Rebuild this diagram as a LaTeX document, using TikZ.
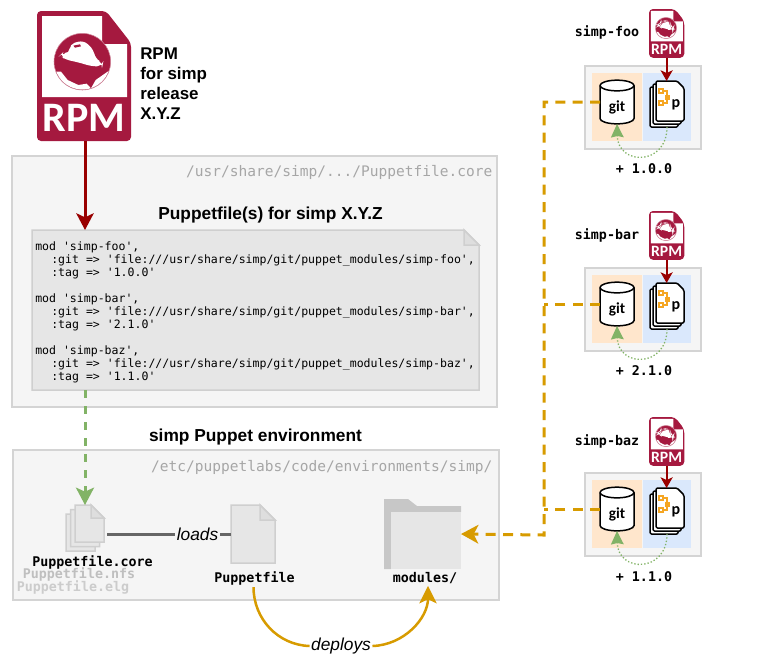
\documentclass[tikz,border=0pt]{standalone}
\usepackage{fontspec}
\setmainfont{Liberation Sans}
\setmonofont{DejaVu Sans Mono}
\newfontfamily\rpmfont{Carlito}
\usetikzlibrary{arrows.meta,positioning,calc}
\definecolor{rpmred}{HTML}{A5193F}
\definecolor{darkred}{HTML}{990000}
\definecolor{gold}{HTML}{D79B00}
\definecolor{leaf}{HTML}{82B366}
\definecolor{panelfill}{HTML}{F5F5F5}
\definecolor{panelline}{HTML}{D4D4D4}
\definecolor{sheetfill}{HTML}{E6E6E6}
\definecolor{sheetline}{HTML}{CFCFCF}
\definecolor{pathgrey}{HTML}{A6A6A6}
\definecolor{forkorange}{HTML}{F5A623}
\definecolor{gitback}{HTML}{FFE6CC}
\definecolor{sheetback}{HTML}{DAE8FC}
\newcommand{\px}{0.75pt}
\newcommand{\cutsheet}[5]{
  \draw[#1] #2 -- ++({#3-#5},0) -- ++(#5,#5) -- ++(0,{#4-#5}) -- ++(-#3,0) -- cycle;
}
\newcommand{\foldsheet}[5]{
  \cutsheet{#1}{#2}{#3}{#4}{#5}
  \draw[#1, fill=black!13] #2 ++({#3-#5},0) -- ++(0,#5) -- ++(#5,0) -- cycle;
}

\begin{document}
\begin{tikzpicture}[
  x=0.75pt, y=-0.75pt,
  font=\small,
  hitbox/.style={inner sep=0pt, outer sep=0pt},
  panel/.style={draw=panelline, fill=panelfill, line width=1.5*\px, inner sep=0pt},
  pathtext/.style={text=pathgrey, font=\ttfamily\fontsize{10.9}{13}\selectfont, anchor=east},
  heading/.style={font=\bfseries\fontsize{13}{15}\selectfont},
  monolabel/.style={font=\ttfamily\bfseries\fontsize{10}{12}\selectfont, inner sep=0pt},
  verblabel/.style={font=\itshape\fontsize{13}{15}\selectfont, inner sep=1pt},
  greysheet/.style={draw=sheetline, fill=sheetfill, line width=1.5*\px},
  blacksheet/.style={draw=black, fill=white, line width=1.5*\px, rounded corners=1pt, line join=round},
  redflow/.style={-{Stealth[length=12.5pt,width=13pt,inset=3pt]}, draw=darkred, line width=3*\px},
  smallred/.style={-{Stealth[length=8pt,width=9pt,inset=2pt]}, draw=darkred, line width=2*\px},
  greenflow/.style={-{Stealth[length=13pt,width=13.5pt,inset=3pt]}, draw=leaf, line width=3*\px, dash pattern=on 6pt off 6pt},
  greenloop/.style={-{Stealth[length=10pt,width=9.5pt,inset=1pt]}, draw=leaf, line width=1.3*\px, dash pattern=on 1pt off 1.5pt},
  goldflow/.style={draw=gold, line width=3*\px, dash pattern=on 7.5pt off 5.5pt},
  goldtip/.style={-{Stealth[length=13pt,width=14pt,inset=3.5pt]}},
  deployflow/.style={draw=gold, line width=2.5*\px},
  rpmicon/.pic={
    \fill[rpmred, rounded corners=3pt] (0,0) -- (69,0) -- (94,32) -- (94,130) -- (0,130) -- cycle;
    \fill[white] (5,5) -- (65,5) -- (65,33) -- (90,33) -- (90,86) -- (5,86) -- cycle;
    \node[hitbox, minimum width=94*\px, minimum height=130*\px] (-body) at (47,65) {};
    \node[text=white, inner sep=0pt, font=\rpmfont\bfseries\fontsize{31.5}{32}\selectfont] at (47,107) {RPM};
    \begin{scope}[shift={(8,14)}, x=0.25pt, y=-0.25pt]
      \fill[rpmred] (112,110) circle (85);
      \begin{scope}
        \clip (112,110) circle (84);
        \fill[white] (20,140) -- (48,140) -- (68,165) -- (100,180) -- (125,176) -- (138,190) -- (152,165) -- (195,135) -- (205,205) -- (15,205) -- cycle;
      \end{scope}
      \draw[rpmred!50, line width=0.4pt] (112,110) circle (85);
      \fill[white, rounded corners=4pt] (74,57) -- (116,46) -- (146,74) -- (150,100) -- (174,114) -- (172,124) -- (140,124) -- (100,112) -- (62,104) -- (44,92) -- (52,84) -- (74,86) -- cycle;
      \fill[rpmred] (85,62) -- (105,58) -- (108,64) -- (90,68) -- cycle;
    \end{scope}
  },
  modulebox/.pic={
    \fill[panelfill, draw=panelline, line width=1.5*\px] (0,0) rectangle (116,83);
    \fill[gitback] (7,7) rectangle (57,75);
    \fill[sheetback] (58,7) rectangle (106,75);
    \filldraw[fill=white, draw=black, line width=1.5*\px] (15,19.5) -- (15,52.5) arc[start angle=180, end angle=360, x radius=12.75pt, y radius=4pt] -- (49,19.5) arc[start angle=0, end angle=180, x radius=12.75pt, y radius=4pt] -- cycle;
    \draw[black, line width=1.5*\px] (15,19.5) arc[start angle=180, end angle=360, x radius=12.75pt, y radius=4pt];
    \node[hitbox, minimum width=34*\px, minimum height=44*\px] (-git) at (32,36) {};
    \node[font=\rpmfont\bfseries\fontsize{11.5}{14}\selectfont, inner sep=0pt, anchor=base] at (32,45) {git};
    \cutsheet{blacksheet}{(65,21)}{28}{40}{7}
    \cutsheet{blacksheet}{(68,18)}{28}{40}{7}
    \cutsheet{blacksheet}{(71,15)}{28}{40}{7}
    \node[hitbox, minimum width=34*\px, minimum height=46*\px] (-sheet) at (82,38) {};
    \draw[forkorange, line width=1.5*\px] (76,25) -| (82,31) (76,37) -| (82,31);
    \draw[forkorange, line width=1.5*\px, fill=white] (74,23) rectangle ++(4,4) (74,35) rectangle ++(4,4);
    \fill[forkorange] (79.5,28.5) rectangle ++(5,5);
    \node[font=\rpmfont\bfseries\fontsize{12}{14}\selectfont, inner sep=0pt, anchor=base] at (91,41) {p};
    \draw[greenloop] (-sheet.south) .. controls (82,100) and (33,100) .. (-git.south);
  }
]
\useasboundingbox (0,0) rectangle (759,662);

\node[panel, minimum width=485*\px, minimum height=251*\px] (corepanel) at (254.5,281.5) {};
\node[panel, minimum width=486*\px, minimum height=150*\px] (envpanel) at (256,525) {};
\node[pathtext] (corepath) at (497,172) {/usr/share/simp/.../Puppetfile.core};
\node[pathtext] (envpath) at (497,467) {/etc/puppetlabs/code/environments/simp/};

\pic (rpmmain) at (37,11) {rpmicon};
\node[align=left, inner sep=0pt, anchor=west, font=\bfseries\fontsize{12.7}{15}\selectfont] (rpmtext) at (140,84) {RPM\\for simp\\release\\X.Y.Z};

\node[heading] (codetitle) at (270.5,215) {Puppetfile(s) for simp X.Y.Z};
\node[hitbox, minimum width=447*\px, minimum height=160*\px] (codefile) at (255,310) {};
\foldsheet{greysheet}{(32,230)}{447}{160}{15}
\node[align=left, inner sep=0pt, anchor=north west, font=\ttfamily\fontsize{8.65}{9.75}\selectfont] (codetext) at (35,241.5) {%
mod 'simp-foo',\\
\hspace*{1.39em}:git => 'file:///usr/share/simp/git/puppet\_modules/simp-foo',\\
\hspace*{1.39em}:tag => '1.0.0'\\[9.75pt]
mod 'simp-bar',\\
\hspace*{1.39em}:git => 'file:///usr/share/simp/git/puppet\_modules/simp-bar',\\
\hspace*{1.39em}:tag => '2.1.0'\\[9.75pt]
mod 'simp-baz',\\
\hspace*{1.39em}:git => 'file:///usr/share/simp/git/puppet\_modules/simp-baz',\\
\hspace*{1.39em}:tag => '1.1.0'};

\node[heading] (envtitle) at (255.5,437) {simp Puppet environment};

\cutsheet{greysheet}{(66,514)}{29}{37}{13}
\cutsheet{greysheet}{(70.5,509.5)}{29}{37}{13}
\foldsheet{greysheet}{(75,505)}{29}{37}{13}
\node[hitbox, minimum width=38*\px, minimum height=46*\px] (pfcore) at (85,528) {};
\foldsheet{greysheet}{(231,505)}{44}{58}{15}
\node[hitbox, minimum width=44*\px, minimum height=58*\px] (pfile) at (253,534) {};

\fill[black!22] (384,499) -- (408,499) -- (417,506) -- (461,506) -- (461,512) -- (391,512) -- (391,569) -- (384,569) -- cycle;
\fill[sheetfill] (391,512) rectangle (461,569);
\node[hitbox, minimum width=77*\px, minimum height=70*\px] (modulesdir) at (422.5,534) {};

\node[monolabel] (corelabel) at (92.5,562) {Puppetfile.core};
\node[monolabel, text=black!25] (nfslabel) at (79,574) {Puppetfile.nfs};
\node[monolabel, text=black!20] (elglabel) at (73,587) {Puppetfile.elg};
\node[monolabel] (pfilelabel) at (254.5,578) {Puppetfile};
\node[monolabel] (moduleslabel) at (425,578) {modules/};

\pic (foo) at (585,66) {modulebox};
\pic (bar) at (585,268) {modulebox};
\pic (baz) at (585,473) {modulebox};
\pic[scale=0.375, transform shape] (rpmfoo) at (649,9) {rpmicon};
\pic[scale=0.375, transform shape] (rpmbar) at (649,211) {rpmicon};
\pic[scale=0.375, transform shape] (rpmbaz) at (649,417) {rpmicon};

\node[monolabel] (foolabel) at (607,32) {simp-foo};
\node[monolabel] (barlabel) at (607,235) {simp-bar};
\node[monolabel] (bazlabel) at (607,441) {simp-baz};
\node[monolabel] (footag) at (644,169) {+ 1.0.0};
\node[monolabel] (bartag) at (644,371) {+ 2.1.0};
\node[monolabel] (baztag) at (644,577) {+ 1.1.0};

\draw[redflow] ([xshift=1*\px]rpmmain-body.south) -- ([xshift=1*\px]rpmmain-body.south |- codefile.north);
\draw[greenflow] (pfcore.north |- codefile.south) -- (pfcore.north);
\draw[draw=black!60, line width=3*\px] ([xshift=3*\px]pfcore.east |- pfile.west) -- node[verblabel, fill=panelfill, pos=.73] (loads) {loads} (pfile.west);

\node[verblabel, fill=white] (deploys) at (341,646) {deploys};
\draw[deployflow] (pfilelabel.south)+(-1,2) to[out=-90,in=178] (deploys.west);
\draw[deployflow, -{Stealth[length=13pt,width=13pt,inset=3pt]}] (deploys.east) to[out=2,in=-90] ([xshift=3*\px,yshift=-2*\px]moduleslabel.south);

\coordinate (busturn) at (544,535);
\draw[goldflow, goldtip] (foo-git.west) -| (busturn) -- (modulesdir.east);
\draw[goldflow] (bar-git.west) -- (bar-git.west -| busturn);
\draw[goldflow] (baz-git.west) -- (baz-git.west -| busturn);

\draw[smallred] (rpmfoo-body.south) -- (rpmfoo-body.south |- foo-sheet.north);
\draw[smallred] (rpmbar-body.south) -- (rpmbar-body.south |- bar-sheet.north);
\draw[smallred] (rpmbaz-body.south) -- (rpmbaz-body.south |- baz-sheet.north);

\end{tikzpicture}
\end{document}
